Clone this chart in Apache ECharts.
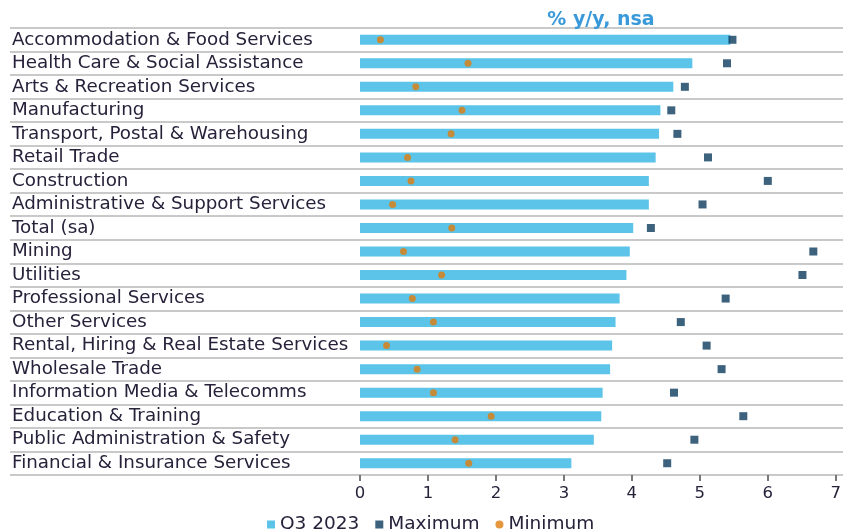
<!DOCTYPE html>
<html>
<head>
<meta charset="utf-8">
<script src="https://cdn.jsdelivr.net/npm/echarts@6/dist/echarts.min.js"></script>
<style>html,body{margin:0;padding:0;background:#fff}#c{width:844px;height:529px}</style>
</head>
<body>
<div id="c"></div>
<script>
const categories = [
  "Accommodation & Food Services",
  "Health Care & Social Assistance",
  "Arts & Recreation Services",
  "Manufacturing",
  "Transport, Postal & Warehousing",
  "Retail Trade",
  "Construction",
  "Administrative & Support Services",
  "Total (sa)",
  "Mining",
  "Utilities",
  "Professional Services",
  "Other Services",
  "Rental, Hiring & Real Estate Services",
  "Wholesale Trade",
  "Information Media & Telecomms",
  "Education & Training",
  "Public Administration & Safety",
  "Financial & Insurance Services"
];
const q3Values  = [5.45, 4.89, 4.61, 4.42, 4.40, 4.35, 4.25, 4.25, 4.02, 3.97, 3.92, 3.82, 3.76, 3.71, 3.68, 3.57, 3.55, 3.44, 3.11];
const maxValues = [5.48, 5.40, 4.78, 4.58, 4.67, 5.12, 6.00, 5.04, 4.28, 6.67, 6.51, 5.38, 4.72, 5.10, 5.32, 4.62, 5.64, 4.92, 4.52];
const minValues = [0.30, 1.59, 0.82, 1.50, 1.34, 0.70, 0.75, 0.48, 1.35, 0.64, 1.20, 0.77, 1.08, 0.39, 0.84, 1.08, 1.93, 1.40, 1.60];
const xTicks = [0, 1, 2, 3, 4, 5, 6, 7];
const seriesNames = ["Q3 2023", "Maximum", "Minimum"];
const titleText = "% y/y, nsa";

const FONT = "DejaVu Sans";
const TXT = "#27213a";
const chart = echarts.init(document.getElementById('c'), null, {renderer: 'canvas'});
const TOP = 28, H = 447;
chart.setOption({
  animation: false,
  backgroundColor: '#fff',
  title: {
    text: titleText, left: 596, top: 6, textAlign: 'center',
    textStyle: {color: '#3a9ad9', fontSize: 19, fontWeight: 'bold', fontFamily: FONT}
  },
  legend: {
    top: 510, left: 262,
    itemWidth: 8, itemHeight: 8, itemGap: 16,
    textStyle: {color: TXT, fontSize: 18.5, fontFamily: FONT},
    data: [
      {name: seriesNames[0], icon: 'rect'},
      {name: seriesNames[1], icon: 'rect'},
      {name: seriesNames[2], icon: 'circle'}
    ]
  },
  grid: [
    {left: 10, right: 1, top: TOP, height: H, containLabel: false},
    {left: 360, right: 1, top: TOP, height: H, containLabel: false}
  ],
  xAxis: [
    {gridIndex: 0, type: 'value', show: false, min: 0, max: 1},
    {gridIndex: 1, type: 'value', min: 0, max: 7, interval: 1,
     axisLine: {show: false},
     axisTick: {show: true, length: 6, lineStyle: {color: '#777', width: 2}},
     splitLine: {show: false},
     axisLabel: {color: TXT, fontSize: 16.5, fontFamily: FONT, margin: 10,
       formatter: v => xTicks.includes(v) ? String(v) : ''}
    }
  ],
  yAxis: [
    {gridIndex: 0, type: 'category', inverse: true, data: categories,
     axisLabel: {show: false}, axisTick: {show: false}, axisLine: {show: false},
     splitLine: {show: true, lineStyle: {color: '#c9c9c9', width: 2}}
    },
    {gridIndex: 1, type: 'category', inverse: true, data: categories,
     axisTick: {show: false}, axisLine: {show: false}, splitLine: {show: false},
     axisLabel: {align: 'left', margin: 348, color: TXT, fontSize: 18.3, fontFamily: FONT}
    }
  ],
  series: [
    {name: seriesNames[0], type: 'bar', xAxisIndex: 1, yAxisIndex: 1, data: q3Values,
     barWidth: 10, itemStyle: {color: '#5bc4e8'}},
    {name: seriesNames[1], type: 'scatter', xAxisIndex: 1, yAxisIndex: 1, data: maxValues,
     symbol: 'rect', symbolSize: 8, itemStyle: {color: '#0c3b5e'}},
    {name: seriesNames[2], type: 'scatter', xAxisIndex: 1, yAxisIndex: 1, data: minValues,
     symbol: 'circle', symbolSize: 7, itemStyle: {color: '#e07d0c'}}
  ]
});
</script>
</body>
</html>
